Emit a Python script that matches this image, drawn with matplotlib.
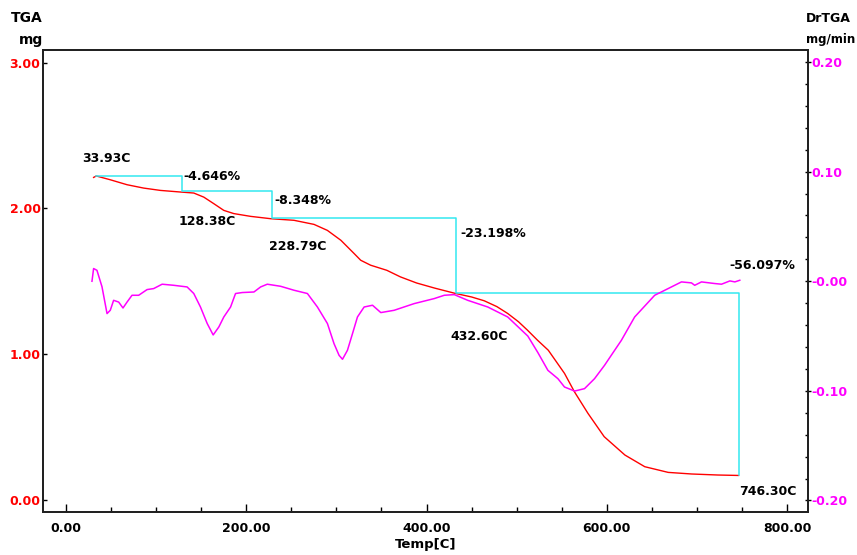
import matplotlib
matplotlib.use("Agg")
from matplotlib import pyplot as plt
from matplotlib.ticker import MultipleLocator, FixedLocator

# TGA curve (mg)
tga_temp = [30.8, 33.8, 49.3, 67.9, 86.3, 104.9, 127, 141.9, 153, 164.1, 175.2, 186.3,
            204.9, 227.1, 253, 275.2, 290, 305, 319.7, 327, 338, 356, 371, 389, 409,
            431, 450, 464, 478, 490, 502, 512, 523, 535, 553, 564, 579, 597, 620, 642,
            668, 694, 723, 746]
tga_mass = [2.212, 2.222, 2.196, 2.162, 2.139, 2.123, 2.112, 2.105, 2.077, 2.032, 1.986, 1.964,
            1.945, 1.929, 1.918, 1.890, 1.849, 1.781, 1.690, 1.644, 1.610, 1.575, 1.530, 1.488,
            1.453, 1.418, 1.392, 1.366, 1.326, 1.279, 1.222, 1.164, 1.096, 1.027, 0.868, 0.742,
            0.594, 0.434, 0.308, 0.228, 0.189, 0.178, 0.171, 0.168]

# DrTGA curve (mg/min)
dtg_temp = [29, 30.8, 34.5, 40.1, 45.7, 49.3, 53, 58.6, 63.4, 67.9, 73.4, 80.8, 90.1, 97.4,
            106.8, 119.7, 134.5, 141.9, 149.3, 156.8, 163.4, 169.7, 175.2, 182.7, 188.2, 195.7,
            208.6, 216, 223.4, 238.2, 253, 267.9, 279, 290.1, 297.4, 303, 306.8, 312.3, 317.9,
            323.4, 330.8, 340.1, 349.3, 364.1, 386.3, 408.6, 419.7, 430.8, 445.7, 467.9, 490,
            512.3, 523.4, 534.6, 545.7, 553, 564.2, 575.2, 586.3, 597.4, 608.6, 616, 630.8, 653,
            667.9, 682.7, 693.8, 697.4, 704.9, 719.7, 727.1, 736.4, 741.9, 747.4]
dtg_val = [0.000, 0.0116, 0.010, -0.005, -0.0295, -0.0265, -0.0174, -0.019, -0.0244, -0.019,
           -0.0128, -0.0128, -0.0076, -0.0067, -0.0027, -0.0037, -0.0052, -0.0112, -0.0235,
           -0.0386, -0.049, -0.0417, -0.0326, -0.0235, -0.0112, -0.0103, -0.0098, -0.0052,
           -0.0027, -0.0046, -0.0082, -0.0112, -0.0235, -0.0386, -0.0569, -0.0676, -0.0712,
           -0.063, -0.0478, -0.0326, -0.0235, -0.0219, -0.0286, -0.0265, -0.0204, -0.0158,
           -0.0128, -0.0122, -0.0174, -0.0235, -0.0326, -0.05, -0.065, -0.0813, -0.0889,
           -0.0965, -0.1002, -0.098, -0.0889, -0.0767, -0.063, -0.054, -0.0326, -0.0128,
           -0.0067, -0.0006, -0.0015, -0.0037, -0.0006, -0.0021, -0.0027, 0.0003, -0.0006, 0.0009]

# weight loss steps
start_mass = 2.22
step_temps = [33.93, 128.38, 228.79, 432.60, 746.30]
step_losses = [-4.646, -8.348, -23.198, -56.097]

left_ticks = [0.0, 1.0, 2.0, 3.0]
left_labels = ["0.00", "1.00", "2.00", "3.00"]
right_ticks = [-0.2, -0.1, 0.0, 0.1, 0.2]
right_labels = ["-0.20", "-0.10", "-0.00", "0.10", "0.20"]
x_ticks = [0, 200, 400, 600, 800]
x_labels = ["0.00", "200.00", "400.00", "600.00", "800.00"]

plt.rcParams["font.family"] = "DejaVu Sans"
plt.rcParams["font.weight"] = "bold"
plt.rcParams["font.size"] = 9

fig = plt.figure(figsize=(8.57, 5.55), dpi=100)
ax = fig.add_axes([0.0505, 0.0766, 0.8923, 0.8333])
ax2 = ax.twinx()

ax.plot(tga_temp, tga_mass, color="#ff0000", lw=1.0, zorder=3)
ax2.plot(dtg_temp, dtg_val, color="#ff00ff", lw=1.1)

# step lines
levels = [start_mass]
for p in step_losses:
    levels.append(levels[-1] + start_mass * p / 100)
sx, sy = [step_temps[0]], [levels[0]]
for i in range(1, len(step_temps)):
    sx += [step_temps[i], step_temps[i]]
    sy += [levels[i - 1], levels[i]]
ax.plot(sx, sy, color="#33e8f0", lw=1.1, zorder=4)

# temperature labels (offset in points)
temp_offsets = [(-10, 13), (-2, -22), (-2, -20), (-4, -31), (0, -12)]
for t, lv, off in zip(step_temps, levels, temp_offsets):
    ax.annotate(f"{t:.2f}C", (t, lv), xytext=off, textcoords="offset points",
                ha="left", va="center", fontsize=9, fontweight="bold", zorder=5)

# percent labels
pct_offsets = [(1.5, 0), (1.5, -6.5), (3, -11), (-7, 20)]
for t, lv, p, off in zip(step_temps[1:], levels[:-1], step_losses, pct_offsets):
    ax.annotate(f"{p:.3f}%", (t, lv), xytext=off, textcoords="offset points",
                ha="left", va="center", fontsize=9, fontweight="bold", zorder=5)

ax.set_xlim(-25, 823)
ax.set_ylim(-0.086, 3.086)
ax2.set_ylim(-0.211, 0.211)

ax.xaxis.set_major_locator(FixedLocator(x_ticks))
ax.set_xticklabels(x_labels)
ax.xaxis.set_minor_locator(MultipleLocator(50))
ax.tick_params(axis="x", which="major", direction="in", length=6, width=1, pad=7)
ax.tick_params(axis="x", which="minor", direction="in", length=3.5, width=1)

ax.set_yticks(left_ticks)
ax.set_yticklabels(left_labels, color="#ff0000")
ax.tick_params(axis="y", direction="in", length=3, width=1, pad=2)

ax2.set_yticks(right_ticks)
ax2.set_yticklabels(right_labels, color="#ff00ff")
ax2.yaxis.set_minor_locator(MultipleLocator(0.02))
ax2.tick_params(axis="y", which="major", direction="inout", length=4, width=1, pad=0.5)
ax2.tick_params(axis="y", which="minor", direction="in", length=2.5, width=1)

for a in (ax, ax2):
    for s in a.spines.values():
        s.set_linewidth(1.3)
        s.set_color("#202020")

ax.set_xlabel("Temp[C]", fontsize=9.5, fontweight="bold", labelpad=2)

fig.text(43 / 857, 1 - 18 / 555, "TGA", ha="right", va="center", fontsize=10, fontweight="bold")
fig.text(43 / 857, 1 - 40 / 555, "mg", ha="right", va="center", fontsize=10, fontweight="bold")
fig.text(806 / 857, 1 - 18 / 555, "DrTGA", ha="left", va="center", fontsize=9, fontweight="bold")
fig.text(806 / 857, 1 - 40 / 555, "mg/min", ha="left", va="center", fontsize=8.5, fontweight="bold")

fig.savefig("out.png", dpi=100)
